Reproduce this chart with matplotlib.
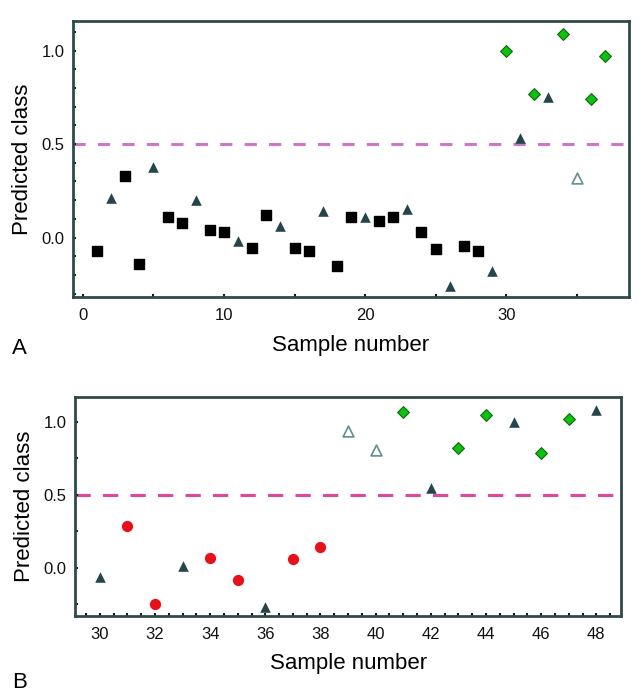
import matplotlib
matplotlib.use("Agg")
import matplotlib.pyplot as plt
from matplotlib.ticker import MultipleLocator, FormatStrFormatter

plt.rcParams["font.family"] = ["Liberation Sans", "DejaVu Sans"]

# Panel A data
a_sq_x = [1, 3, 4, 6, 7, 9, 10, 12, 13, 15, 16, 18, 19, 21, 22, 24, 25, 27, 28]
a_sq_y = [-0.07, 0.33, -0.14, 0.11, 0.075, 0.04, 0.03, -0.055, 0.12, -0.055,
          -0.07, -0.15, 0.11, 0.086, 0.11, 0.03, -0.06, -0.045, -0.07]
a_tri_x = [2, 5, 8, 11, 14, 17, 20, 23, 26, 29, 31, 33]
a_tri_y = [0.21, 0.38, 0.20, -0.02, 0.06, 0.14, 0.11, 0.155, -0.26, -0.18, 0.53, 0.75]
a_open_x = [35]
a_open_y = [0.32]
a_dia_x = [30, 32, 34, 36, 37]
a_dia_y = [1.0, 0.77, 1.09, 0.74, 0.97]

# Panel B data
b_tri_x = [30, 33, 36, 42, 45, 48]
b_tri_y = [-0.06, 0.01, -0.27, 0.55, 1.0, 1.08]
b_dot_x = [31, 32, 34, 35, 37, 38]
b_dot_y = [0.29, -0.25, 0.07, -0.08, 0.06, 0.14]
b_open_x = [39, 40]
b_open_y = [0.94, 0.81]
b_dia_x = [41, 43, 44, 46, 47]
b_dia_y = [1.07, 0.82, 1.05, 0.79, 1.02]

threshold = 0.5

SPINE = "#2f4a4a"
TRI = "#24454c"
OPEN = "#5f9090"
GREEN = "#10c010"
GREEN_EDGE = "#0a6a0a"
RED = "#e8101a"

fig = plt.figure(figsize=(6.41, 6.93), dpi=100)
ax1 = fig.add_axes([0.114, 0.571, 0.867, 0.399])
ax2 = fig.add_axes([0.117, 0.111, 0.852, 0.316])


def style(ax):
    for sp in ax.spines.values():
        sp.set_color(SPINE)
        sp.set_linewidth(2.0)
    ax.tick_params(which="both", direction="in", color="#1a1a1a",
                   width=1.5, length=2.5, labelsize=12, labelcolor="#111111")
    ax.tick_params(axis="y", pad=6)
    ax.tick_params(axis="x", pad=8)
    ax.yaxis.set_major_formatter(FormatStrFormatter("%.1f"))
    ax.set_ylabel("Predicted class", fontsize=16, labelpad=6)
    ax.set_xlabel("Sample number", fontsize=16, labelpad=8)


tri_kw = dict(marker="^", s=58, color=TRI, linewidths=0, zorder=3)
open_kw = dict(marker="^", s=60, facecolors="white", edgecolors=OPEN,
               linewidths=1.2, zorder=3)
dia_kw = dict(marker="D", s=36, color=GREEN, edgecolors=GREEN_EDGE,
              linewidths=0.8, zorder=3)

# Panel A
ax1.axhline(threshold, color="#cc77cc", lw=2.2, dashes=(4, 4), zorder=1)
ax1.scatter(a_sq_x, a_sq_y, marker="s", s=50, color="black", zorder=3)
ax1.scatter(a_tri_x, a_tri_y, **tri_kw)
ax1.scatter(a_open_x, a_open_y, **open_kw)
ax1.scatter(a_dia_x, a_dia_y, **dia_kw)
ax1.set_xlim(-0.7, 38.7)
ax1.set_ylim(-0.32, 1.16)
ax1.xaxis.set_major_locator(MultipleLocator(10))
ax1.xaxis.set_minor_locator(MultipleLocator(5))
ax1.yaxis.set_major_locator(MultipleLocator(0.5))
ax1.yaxis.set_minor_locator(MultipleLocator(0.1))
style(ax1)

# Panel B
ax2.axhline(threshold, color="#e0479e", lw=2.2, dashes=(5, 4), zorder=1)
ax2.scatter(b_tri_x, b_tri_y, **tri_kw)
ax2.scatter(b_dot_x, b_dot_y, marker="o", s=50, color=RED, zorder=3)
ax2.scatter(b_open_x, b_open_y, **open_kw)
ax2.scatter(b_dia_x, b_dia_y, **dia_kw)
ax2.set_xlim(29.1, 48.9)
ax2.set_ylim(-0.33, 1.17)
ax2.xaxis.set_major_locator(MultipleLocator(2))
ax2.xaxis.set_minor_locator(MultipleLocator(0.5))
ax2.yaxis.set_major_locator(MultipleLocator(0.5))
ax2.yaxis.set_minor_locator(MultipleLocator(0.25))
style(ax2)

fig.text(0.031, 1 - 348 / 693, "A", fontsize=16, va="center", ha="center")
fig.text(0.031, 1 - 683 / 693, "B", fontsize=16, va="center", ha="center")

fig.savefig("out.png", dpi=100, facecolor="white")
